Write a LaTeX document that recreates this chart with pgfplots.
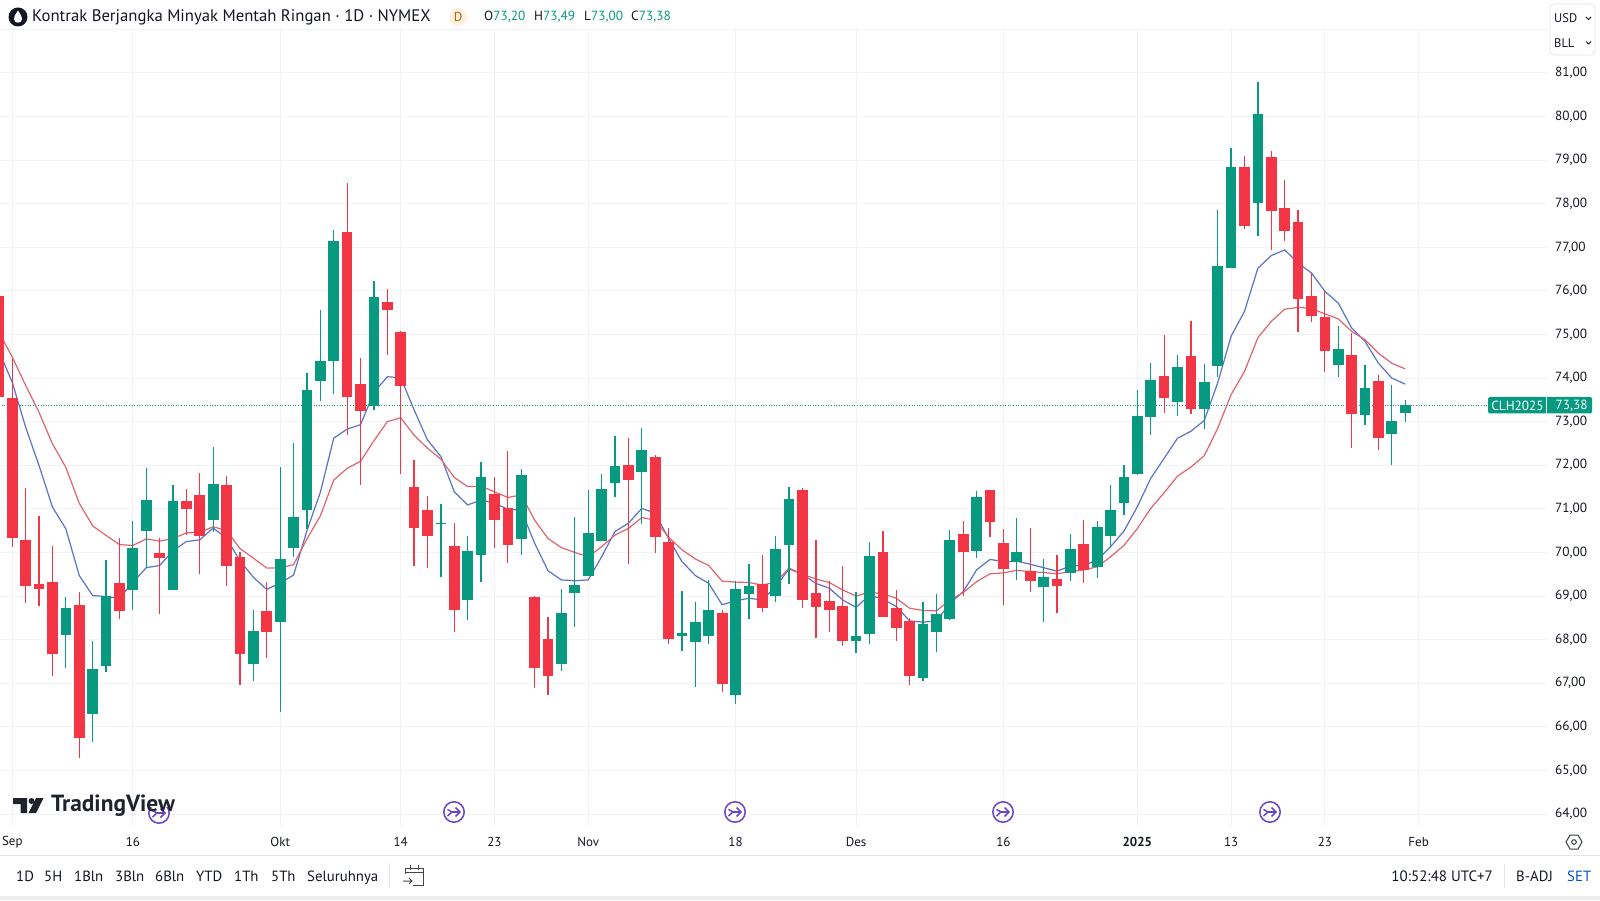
\documentclass[border=0pt]{standalone}
\usepackage{pgfplots}
\usepackage{pgfplotstable}
\usepackage{fontspec}
\pgfplotsset{compat=1.18}
\setmainfont{PT Sans}
\definecolor{up}{HTML}{089981}
\definecolor{dn}{HTML}{F23645}
\definecolor{maB}{HTML}{5B73C7}
\definecolor{maR}{HTML}{DE6570}
\definecolor{gridc}{HTML}{F1F3F7}
\definecolor{txt}{HTML}{131722}
\definecolor{sepc}{HTML}{E3E5EB}
\definecolor{purp}{HTML}{6A45C8}
\pgfplotstableread{
k h l top bot
5 68.97 67.34 68.72 68.11
7 67.98 65.65 67.33 66.29
8 69.83 67.25 68.99 67.39
10 70.71 68.67 70.10 69.14
11 71.94 69.64 71.21 70.50
13 71.55 69.14 71.17 69.14
16 72.41 70.46 71.57 70.75
19 68.67 67.06 68.19 67.44
21 71.95 66.33 69.85 68.41
22 72.51 69.89 70.81 70.11
23 74.11 70.54 73.72 70.98
24 75.57 73.48 74.39 73.93
25 77.40 73.63 77.15 74.39
28 76.23 73.26 75.86 73.37
33 71.11 69.43 70.68 70.65
35 70.38 68.45 70.03 68.91
36 72.08 69.33 71.74 69.93
39 71.91 69.94 71.78 70.31
42 69.16 67.27 68.60 67.44
43 70.81 68.28 69.25 69.06
44 71.43 69.46 70.44 69.46
45 71.80 70.26 71.46 70.26
46 72.66 71.28 71.98 71.59
48 72.86 70.65 72.35 71.84
51 69.12 67.75 68.15 68.08
52 68.86 66.92 68.41 67.95
53 69.37 67.90 68.68 68.09
55 69.35 66.52 69.16 66.74
56 69.74 68.47 69.23 69.05
58 70.38 68.86 70.09 69.00
59 71.51 69.28 71.23 70.16
64 69.10 67.69 68.08 67.98
65 70.23 67.90 69.92 68.13
69 68.87 67.06 68.37 67.12
70 69.05 67.71 68.59 68.17
71 70.52 68.44 70.29 68.47
73 71.42 69.88 71.28 70.04
76 70.78 69.37 70.02 69.79
78 69.85 68.41 69.44 69.20
80 70.42 69.35 70.09 69.53
82 70.73 69.42 70.59 69.67
83 71.55 70.13 70.97 70.38
84 72.01 70.86 71.72 71.13
85 73.73 71.77 73.12 71.81
86 74.34 72.70 73.96 73.10
88 74.53 73.12 74.25 73.44
90 74.33 72.84 73.92 73.30
91 77.86 74.02 76.58 74.28
92 79.27 76.53 78.83 76.53
94 80.78 77.25 80.06 78.01
100 75.20 74.02 74.67 74.29
102 74.31 72.93 73.77 73.15
104 73.85 72.01 73.01 72.72
105 73.49 73.00 73.38 73.20
}\greentable
\pgfplotstableread{
k h l top bot
0 76.20 73.50 75.89 73.56
1 74.44 70.13 73.54 70.34
2 71.47 68.84 70.29 69.22
3 70.83 68.76 69.28 69.15
4 70.14 67.17 69.33 67.66
6 69.09 65.29 68.80 65.74
9 70.32 68.47 69.31 68.65
12 70.32 68.59 69.99 69.87
14 71.46 70.39 71.19 71.00
15 71.82 69.51 71.32 70.37
17 71.75 69.24 71.55 69.68
18 70.00 66.97 69.90 67.66
20 69.33 67.58 68.65 68.17
26 78.47 72.70 77.35 73.57
27 74.46 71.55 73.86 73.24
29 76.05 74.54 75.74 75.55
30 75.09 71.80 75.05 73.81
31 72.12 69.70 71.51 70.56
32 71.30 69.65 70.97 70.37
34 70.68 68.17 70.15 68.67
37 71.72 70.11 71.34 70.74
38 72.33 69.75 71.01 70.16
40 69.00 66.90 68.97 67.35
41 68.51 66.72 68.02 67.17
47 72.62 69.74 72.00 71.66
49 72.24 69.98 72.20 70.35
50 70.55 67.90 70.25 68.02
54 68.68 66.81 68.60 66.98
57 69.94 68.63 69.28 68.72
60 71.47 68.72 71.43 68.91
61 70.29 68.03 69.06 68.74
62 69.35 68.17 68.89 68.68
63 69.69 67.85 68.76 67.98
66 70.50 68.51 70.02 68.51
67 69.14 67.97 68.72 68.26
68 68.49 66.96 68.43 67.17
72 70.71 69.00 70.42 70.00
74 71.43 70.36 71.43 70.69
75 70.53 68.80 70.22 69.62
77 70.57 69.09 69.57 69.35
79 69.93 68.60 69.39 69.22
81 70.74 69.31 70.19 69.60
87 74.99 73.20 74.05 73.55
89 75.30 73.17 74.51 73.30
93 79.10 77.43 78.83 77.49
95 79.21 76.94 79.06 77.84
96 78.55 77.15 77.91 77.38
97 77.86 75.05 77.57 75.82
98 76.41 75.28 75.89 75.43
99 75.99 74.15 75.39 74.61
101 75.03 72.40 74.54 73.17
103 74.08 72.34 73.94 72.62
}\redtable
\pgfplotstableread{
k fast slow
0 74.62 75.05
1 73.90 74.48
2 72.87 73.83
3 71.99 73.21
4 71.04 72.49
5 70.54 71.95
6 69.47 71.13
7 69.01 70.61
8 68.99 70.39
9 68.95 70.18
10 69.31 70.16
11 69.65 70.31
12 69.70 70.26
13 70.04 70.32
14 70.25 70.45
15 70.29 70.46
16 70.56 70.59
17 70.32 70.50
18 69.81 70.09
19 69.43 69.87
20 69.15 69.64
21 69.30 69.65
22 69.48 69.72
23 70.50 70.31
24 71.38 70.84
25 72.62 71.66
26 72.83 71.93
27 72.93 72.09
28 73.67 72.56
29 74.03 73.00
30 74.01 73.09
31 73.27 72.69
32 72.58 72.39
33 72.20 72.14
34 71.39 71.72
35 71.09 71.51
36 71.20 71.52
37 71.13 71.39
38 70.99 71.26
39 70.97 71.32
40 70.21 70.74
41 69.58 70.32
42 69.37 70.11
43 69.35 70.00
44 69.37 69.90
45 69.90 70.13
46 70.48 70.40
47 70.67 70.55
48 71.01 70.80
49 70.90 70.74
50 70.32 70.35
51 69.79 70.06
52 69.47 69.85
53 69.29 69.70
54 68.80 69.34
55 68.89 69.32
56 68.95 69.31
57 68.91 69.25
58 69.22 69.32
59 69.62 69.64
60 69.50 69.50
61 69.29 69.39
62 69.18 69.31
63 68.91 69.14
64 68.74 69.00
65 69.02 69.09
66 68.93 69.05
67 68.76 68.95
68 68.43 68.72
69 68.40 68.67
70 68.43 68.66
71 68.83 68.91
72 69.10 69.08
73 69.60 69.33
74 69.84 69.51
75 69.79 69.53
76 69.80 69.59
77 69.73 69.56
78 69.65 69.54
79 69.57 69.51
80 69.69 69.56
81 69.70 69.60
82 69.83 69.67
83 70.13 69.90
84 70.49 70.16
85 71.05 70.55
86 71.70 71.01
87 72.16 71.37
88 72.62 71.75
89 72.78 71.96
90 73.03 72.22
91 73.89 72.85
92 74.96 73.62
93 75.53 74.15
94 76.52 74.93
95 76.81 75.30
96 76.94 75.58
97 76.64 75.62
98 76.41 75.60
99 75.99 75.47
100 75.72 75.36
101 75.15 75.07
102 74.84 74.88
103 74.34 74.57
104 74.00 74.34
105 73.86 74.21
}\matable
\tikzset{pevent/.pic={
  \draw[purp,line width=1.5pt,fill=white] (0,0) circle (10.2pt);
  \draw[purp,line width=1.5pt] (-6.5pt,2.6pt) -- (-2pt,0pt) -- (-6.5pt,-4pt);
  \draw[purp,line width=1.5pt] (-2pt,0pt) -- (6pt,0pt);
  \draw[purp,line width=1.5pt] (1.5pt,4.5pt) -- (6pt,0pt) -- (1.5pt,-4.5pt);
}}
\begin{document}
\begin{tikzpicture}
\useasboundingbox (0pt,0pt) rectangle (1600pt,900pt);
\fill[white] (0pt,0pt) rectangle (1600pt,900pt);
\begin{axis}[
  at={(0pt,74pt)}, anchor=south west,
  scale only axis, width=1548pt, height=798pt,
  xmin=0.082, xmax=115.66, ymin=63.725, ymax=82.03,
  axis line style={draw=none},
  major tick length=0pt,
  ytick={64,65,...,81},
  extra y ticks={82}, extra y tick labels={},
  extra y tick style={grid=major},
  xtick={1,10,21,30,37,44,55,64,75,85,92,99,106},
  xticklabels={Sep,16,Okt,14,23,Nov,18,Des,16,\textbf{2025},13,23,Feb},
  axis y line*=right,
  axis x line*=bottom,
  ymajorgrids, xmajorgrids,
  major grid style={gridc,line width=0.9pt},
  y tick label style={font=\fontsize{13.3}{15}\selectfont,text=txt,anchor=west,xshift=3.5pt,
    /pgf/number format/.cd,use comma,fixed,fixed zerofill,precision=2,assume math mode=true},
  x tick label style={font=\fontsize{13}{15}\selectfont,text=txt,anchor=center,yshift=-16pt},
  clip=true,
]
\addplot[maB,line width=1.2pt,forget plot] table[x=k,y=fast] {\matable};
\addplot[maR,line width=1.2pt,forget plot] table[x=k,y=slow] {\matable};
\addplot[up,line width=0.8pt,dash pattern=on 1pt off 1.6pt,forget plot] coordinates {(0,73.38)(116,73.38)};
\addplot[draw=none,mark=none,forget plot,error bars/.cd,y dir=minus,y explicit,error mark=none,
  error bar style={draw=up,solid,line width=1.25pt}]
  table[x=k,y=h,y error minus expr=\thisrow{h}-\thisrow{l}] {\greentable};
\addplot[draw=none,mark=none,forget plot,error bars/.cd,y dir=minus,y explicit,error mark=none,
  error bar style={draw=dn,solid,line width=1.25pt}]
  table[x=k,y=h,y error minus expr=\thisrow{h}-\thisrow{l}] {\redtable};
\addplot[draw=none,mark=none,forget plot,error bars/.cd,y dir=minus,y explicit,error mark=none,
  error bar style={draw=up,solid,line width=10.7pt}]
  table[x=k,y=top,y error minus expr=\thisrow{top}-\thisrow{bot}] {\greentable};
\addplot[draw=none,mark=none,forget plot,error bars/.cd,y dir=minus,y explicit,error mark=none,
  error bar style={draw=dn,solid,line width=10.7pt}]
  table[x=k,y=top,y error minus expr=\thisrow{top}-\thisrow{bot}] {\redtable};
\end{axis}
\begin{scope}[shift={(0pt,900pt)},x=1pt,y=-1pt]
  % top legend
  \fill[txt] (18,17) circle (9.5);
  \fill[white] (18,10.5) .. controls (15,15) and (13.8,17) .. (14,19) .. controls (14.4,24) and (21.6,24) .. (22,19) .. controls (22.2,17) and (21,15) .. (18,10.5) -- cycle;
  \node[anchor=west,inner sep=0pt,text=txt,font=\fontsize{16.7}{18}\selectfont] at (32,17.5) {Kontrak Berjangka Minyak Mentah Ringan · 1D · NYMEX};
  \fill[orange!12] (458,17) circle (9);
  \node[text=orange!75!black,font=\fontsize{13}{15}\selectfont,inner sep=0pt] at (458,17) {D};
  \node[anchor=west,inner sep=0pt,font=\fontsize{13.3}{15}\selectfont,text=txt] at (484,17) {O\textcolor{up}{73,20}};
  \node[anchor=west,inner sep=0pt,font=\fontsize{13.3}{15}\selectfont,text=txt] at (534,17) {H\textcolor{up}{73,49}};
  \node[anchor=west,inner sep=0pt,font=\fontsize{13.3}{15}\selectfont,text=txt] at (584,17) {L\textcolor{up}{73,00}};
  \node[anchor=west,inner sep=0pt,font=\fontsize{13.3}{15}\selectfont,text=txt] at (631,17) {C\textcolor{up}{73,38}};
  % USD / BLL box
  \draw[sepc,line width=0.8pt,fill=white,rounded corners=4pt] (1550,4) rectangle (1595,55);
  \node[anchor=west,inner sep=0pt,font=\fontsize{12.5}{14}\selectfont,text=txt] at (1554,18) {USD};
  \node[anchor=west,inner sep=0pt,font=\fontsize{12.5}{14}\selectfont,text=txt] at (1554,43) {BLL};
  \draw[txt,line width=0.8pt] (1586,17) -- (1588.5,19.5) -- (1591,17);
  \draw[txt,line width=0.8pt] (1586,41.5) -- (1588.5,44) -- (1591,41.5);
  % price label
  \fill[up,rounded corners=1.5pt] (1488,397) rectangle (1592,413.5);
  \draw[white,line width=0.8pt] (1546.7,397) -- (1546.7,413.5);
  \node[text=white,inner sep=0pt,font=\fontsize{13.3}{15}\selectfont] at (1517.5,405.5) {CLH2025};
  \node[text=white,inner sep=0pt,font=\fontsize{13.3}{15}\selectfont] at (1571.5,405.5) {73,38};
  % events
  \pic at (159,813) {pevent};
  \pic at (454,812) {pevent};
  \pic at (735,812) {pevent};
  \pic at (1003,812) {pevent};
  \pic at (1270,812) {pevent};
  % TradingView logo
  \fill[white] (146,794) rectangle (180,806.5);
  \fill[txt!95] (13,798) -- (27,798) -- (27,813) -- (20.5,813) -- (20.5,804) -- (13,804) -- cycle;
  \fill[txt!95] (31.5,801) circle (3);
  \fill[txt!95] (36,798) -- (43.5,798) -- (36,813) -- (28.5,813) -- cycle;
  \node[anchor=west,inner sep=0pt,text=txt!95,font=\fontsize{23.4}{26}\selectfont\bfseries] at (51,806) {TradingView};
  % bottom bars
  \draw[sepc,line width=0.9pt] (0,855) -- (1600,855);
  \fill[gray!14] (0,896) rectangle (1600,900);
  \foreach \xx/\lab in {16/1D,44/5H,74/1Bln,115/3Bln,155/6Bln,196/YTD,234/1Th,271/5Th,307/Seluruhnya}
    \node[anchor=base west,inner sep=0pt,text=txt,font=\fontsize{14.8}{16}\selectfont] at (\xx,881) {\lab};
  \draw[sepc,line width=0.8pt] (389,863) -- (389,888);
  % calendar icon
  \draw[txt!80,line width=1pt] (405,874) -- (405,868) -- (423,868) -- (423,885) -- (413,885);
  \draw[txt!80,line width=1pt] (405,872.5) -- (423,872.5);
  \draw[txt!80,line width=1pt] (410,865) -- (410,870) (418,865) -- (418,870);
  \draw[txt!80,line width=1pt] (403,881) -- (412,881) (409,878) -- (412,881) -- (409,884);
  \node[anchor=base east,inner sep=0pt,text=txt,font=\fontsize{15}{17}\selectfont] at (1493,881) {10:52:48 UTC+7};
  \draw[sepc,line width=0.8pt] (1504,864) -- (1504,888);
  \node[anchor=base west,inner sep=0pt,text=txt,font=\fontsize{14.8}{16}\selectfont] at (1516,881) {B-ADJ};
  \node[anchor=base west,inner sep=0pt,text=blue!60!cyan!80!black,font=\fontsize{14.8}{16}\selectfont] at (1567,881) {SET};
  % settings
  \draw[txt!85,line width=1pt] (1566,842) -- (1570,835) -- (1578,835) -- (1582,842) -- (1578,849) -- (1570,849) -- cycle;
  \draw[txt!85,line width=1pt] (1574,842) circle (2.3);
\end{scope}
\end{tikzpicture}
\end{document}
